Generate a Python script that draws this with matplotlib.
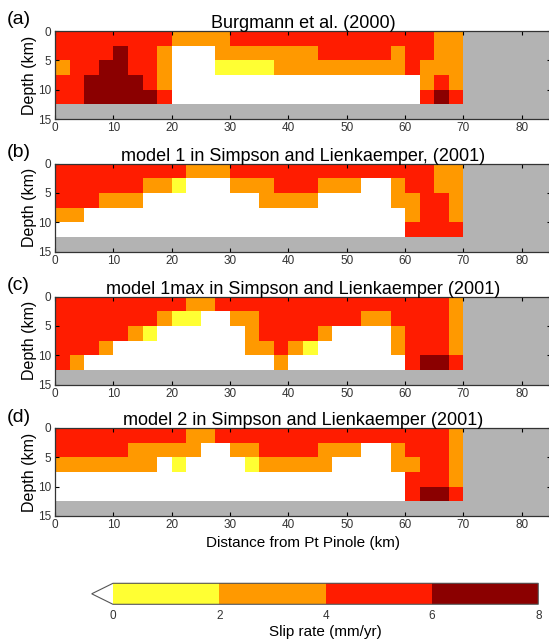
import matplotlib
matplotlib.use('Agg')
import matplotlib.pyplot as plt
import numpy as np
from matplotlib.colors import ListedColormap, BoundaryNorm

plt.rcParams['font.family'] = ['Liberation Sans', 'DejaVu Sans']

# slip rate class per 2.5 km x 2.5 km patch (rows: depth 0-12.5 km, cols: 0-70 km)
# W: < 0 (white), Y: 0-2, O: 2-4, R: 4-6, D: 6-8 mm/yr
slip_a = ['RRRRRRRROOOORRRRRRRRRRRRRROO',
          'RRRRDRROWWWOOOOOOORRRRRORROO',
          'ORRDDRROWWWYYYYOOOOOOOOOROOO',
          'RRDDDDROWWWWWWWWWWWWWWWWWORO',
          'RRDDDDDRWWWWWWWWWWWWWWWWWRDR']
slip_b = ['RRRRRRRRROOORRRRRRRRRRRRRROO',
          'RRRRRROOYWWWOOORRROOOWWORROO',
          'RRROOOWWWWWWWWOOOOWWWWWOORRO',
          'OOWWWWWWWWWWWWWWWWWWWWWWORRO',
          'WWWWWWWWWWWWWWWWWWWWWWWWRRRR']
slip_c = ['RRRRRRRRROORRRRRRRRRRRRRRRRO',
          'RRRRRRROYYWWOORRRRRRROORRRRO',
          'RRRRROYWWWWWWORRRROWWWWORRRO',
          'RRROWWWWWWWWWOOROYWWWWWORRRO',
          'ROWWWWWWWWWWWWWOWWWWWWWWRDDR']
slip_d = ['RRRRRRRRROORRRRRRRRRRRRRRRRO',
          'RRRRROOOOOWWOORRRROOOWWORRRO',
          'OOOOOOOWYWWWWYOOOOOWWWWOORRO',
          'WWWWWWWWWWWWWWWWWWWWWWWWRRRO',
          'WWWWWWWWWWWWWWWWWWWWWWWWRDDR']
class_value = {'W': -1.0, 'Y': 1.0, 'O': 3.0, 'R': 5.0, 'D': 7.0}

titles = ['Burgmann et al. (2000)',
          'model 1 in Simpson and Lienkaemper, (2001)',
          'model 1max in Simpson and Lienkaemper (2001)',
          'model 2 in Simpson and Lienkaemper (2001)']
panel_labels = ['(a)', '(b)', '(c)', '(d)']
x_edges = np.arange(0, 70.01, 2.5)
z_edges = np.arange(0, 12.51, 2.5)
cbar_bounds = [0, 2, 4, 6, 8]

cmap = ListedColormap(['#ffff33', '#ff9900', '#ff1c00', '#8b0000'])
cmap.set_under('white')
norm = BoundaryNorm(cbar_bounds, cmap.N)

fig = plt.figure(figsize=(5.49, 6.42), dpi=100)
W, H = 549.0, 642.0
tops = [31, 163.5, 296.5, 428]
ax_h = 88

for i, (rows, title, lab) in enumerate(zip([slip_a, slip_b, slip_c, slip_d],
                                           titles, panel_labels)):
    grid = np.array([[class_value[c] for c in r] for r in rows])
    ax = fig.add_axes([55 / W, 1 - (tops[i] + ax_h) / H, 496 / W, ax_h / H])
    ax.set_facecolor('#b3b3b3')
    mesh = ax.pcolormesh(x_edges, z_edges, grid, cmap=cmap, norm=norm)
    ax.set_xlim(0, 85)
    ax.set_ylim(15, 0)
    ax.set_xticks(np.arange(0, 81, 10))
    ax.set_yticks([0, 5, 10, 15])
    ax.tick_params(direction='in', top=True, right=True, length=3,
                   labelsize=8.5, labelcolor='#333333', pad=2.5)
    for s in ax.spines.values():
        s.set_color('#333333')
        s.set_linewidth(0.9)
    ax.set_ylabel('Depth (km)', fontsize=11.5, labelpad=1)
    ax.set_title(title, fontsize=13, pad=2)
    fig.text(7 / W, 1 - (tops[i] - 11) / H, lab, fontsize=14,
             ha='left', va='center')
    if i == 3:
        ax.set_xlabel('Distance from Pt Pinole (km)', fontsize=11, labelpad=3)

cax = fig.add_axes([91.7 / W, 37.7 / H, 446.6 / W, 21 / H])
cb = fig.colorbar(mesh, cax=cax, orientation='horizontal', extend='min',
                  extendfrac=0.05, ticks=cbar_bounds)
cb.outline.set_linewidth(0.8)
cb.outline.set_edgecolor('#555555')
cax.tick_params(length=0, labelsize=8.5, labelcolor='#333333', pad=4)
cb.set_label('Slip rate (mm/yr)', fontsize=11, labelpad=2)

fig.savefig('out.png', dpi=100)
